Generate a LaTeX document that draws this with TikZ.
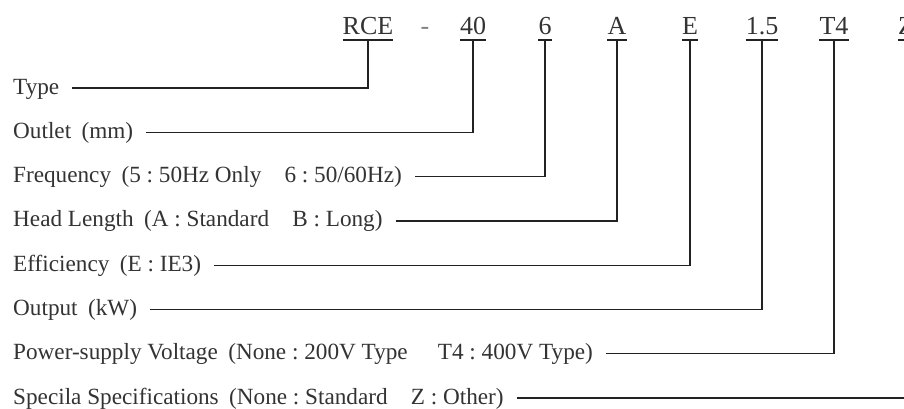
\documentclass[tikz,border=0pt]{standalone}
\usepackage{fontspec}
\setmainfont{Liberation Serif}
\usetikzlibrary{calc}
\definecolor{txt}{HTML}{333333}
\definecolor{ln}{HTML}{222222}
\newcommand\lpar{\hspace{0.45em}(}
\newcommand\fsp{\hspace{1em}}
\begin{document}
\begin{tikzpicture}[x=1pt,y=-1pt,
  lab/.style={anchor=base west, inner sep=0pt, font=\fontsize{23.2}{23.2}\selectfont, text=txt},
  code/.style={anchor=base, inner sep=0pt, font=\fontsize{26}{26}\selectfont, text=txt},
  conn/.style={draw=ln, line width=1.3pt},
  uline/.style={draw=ln, line width=2.2pt}]
\useasboundingbox (0,0) rectangle (904,408);
\clip (0,0) rectangle (904,408);
\fill[white] (0,0) rectangle (904,408);
% codes
\node[code] (cRCE) at (368,34) {RCE};
\node[code,text=black!50] (cdash) at (425,34) {-};
\node[code] (c40) at (473,34) {40};
\node[code] (c6) at (545,34) {6};
\node[code] (cA) at (617,34) {A};
\node[code] (cE) at (690,34) {E};
\node[code] (c15) at (762,34) {1.5};
\node[code] (cT4) at (834,34) {T4};
\node[code] (cZ) at (906,34) {Z};
\foreach \c in {cRCE,c40,c6,cA,cE,c15,cT4,cZ}
  \draw[uline] ([yshift=-6pt]\c.base west) -- ([yshift=-6pt]\c.base east);
% labels
\node[lab] (l1) at (13,94) {Type};
\node[lab] (l2) at (13,138.3) {Outlet\lpar mm)};
\node[lab] (l3) at (13,182.6) {Frequency\lpar 5~:~50Hz Only\fsp 6~:~50/60Hz)};
\node[lab] (l4) at (13,226.9) {Head Length\lpar A~:~Standard\fsp B~:~Long)};
\node[lab] (l5) at (13,271.2) {Efficiency\lpar E~:~IE3)};
\node[lab] (l6) at (13,315.5) {Output\lpar kW)};
\node[lab] (l7) at (13,359.8) {Power-supply Voltage\lpar None~:~200V Type\hspace{1.3em}T4~:~400V Type)};
\node[lab] (l8) at (13,404.1) {Specila Specifications\lpar None~:~Standard\fsp Z~:~Other)};
% connectors
\draw[conn] ($(l1.base east)+(13,-6)$) -| ([yshift=-6pt]cRCE.base);
\draw[conn] ($(l2.base east)+(13,-6)$) -| ([yshift=-6pt]c40.base);
\draw[conn] ($(l3.base east)+(13,-6)$) -| ([yshift=-6pt]c6.base);
\draw[conn] ($(l4.base east)+(13,-6)$) -| ([yshift=-6pt]cA.base);
\draw[conn] ($(l5.base east)+(13,-6)$) -| ([yshift=-6pt]cE.base);
\draw[conn] ($(l6.base east)+(13,-6)$) -| ([yshift=-6pt]c15.base);
\draw[conn] ($(l7.base east)+(13,-6)$) -| ([yshift=-6pt]cT4.base);
\draw[conn] ($(l8.base east)+(13,-6)$) -| ([yshift=-6pt]cZ.base);
\end{tikzpicture}
\end{document}
